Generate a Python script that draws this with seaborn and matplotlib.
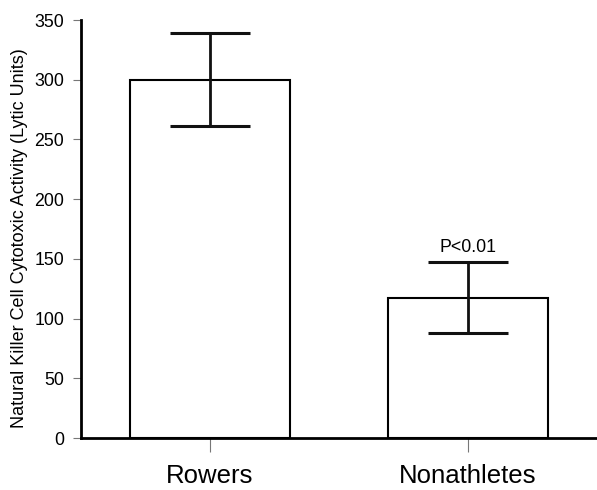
import matplotlib
matplotlib.use("Agg")
import matplotlib.pyplot as plt
import seaborn as sns
import pandas as pd

groups = ["Rowers", "Nonathletes"]
activity = [300, 117]
err_low = [39, 29]
err_high = [39, 30]
p_label = "P<0.01"

sns.set_style("ticks")
plt.rcParams['font.family'] = ['Liberation Sans', 'DejaVu Sans']
plt.rcParams['text.color'] = 'black'
plt.rcParams['axes.labelcolor'] = 'black'
plt.rcParams['xtick.labelcolor'] = 'black'
plt.rcParams['ytick.labelcolor'] = 'black'

df = pd.DataFrame({"Group": groups, "Activity": activity})

fig = plt.figure(figsize=(5.97, 4.90), dpi=100)
ax = fig.add_axes([0.1357, 0.1061, 0.8643, 0.853])
sns.barplot(data=df, x="Group", y="Activity", color="white", edgecolor="black",
            linewidth=1.5, width=0.623, errorbar=None, ax=ax)
ax.errorbar(range(len(groups)), activity, yerr=[err_low, err_high], fmt="none",
            ecolor="#111111", elinewidth=2, capsize=29, capthick=2.2)
ax.text(1, 152, p_label, ha="center", va="bottom", fontsize=12.8)

ax.set_ylim(0, 350)
ax.set_xlim(-0.5, 1.5)
ax.set_yticks(range(0, 351, 50))
ax.set_xlabel("")
ax.set_ylabel("Natural Killer Cell Cytotoxic Activity (Lytic Units)", fontsize=13, labelpad=6)
ax.yaxis.set_label_coords(-0.102, 0.478)
ax.tick_params(axis="y", labelsize=12.8, length=6, width=0.8, color="#777777", pad=6)
ax.tick_params(axis="x", labelsize=18.5, length=10, width=0.8, color="#777777", pad=9)
sns.despine(ax=ax, right=True, top=True)
ax.spines["left"].set_linewidth(2)
ax.spines["bottom"].set_linewidth(2)
ax.spines["left"].set_color("black")
ax.spines["bottom"].set_color("black")
fig.savefig("out.png", dpi=100)
